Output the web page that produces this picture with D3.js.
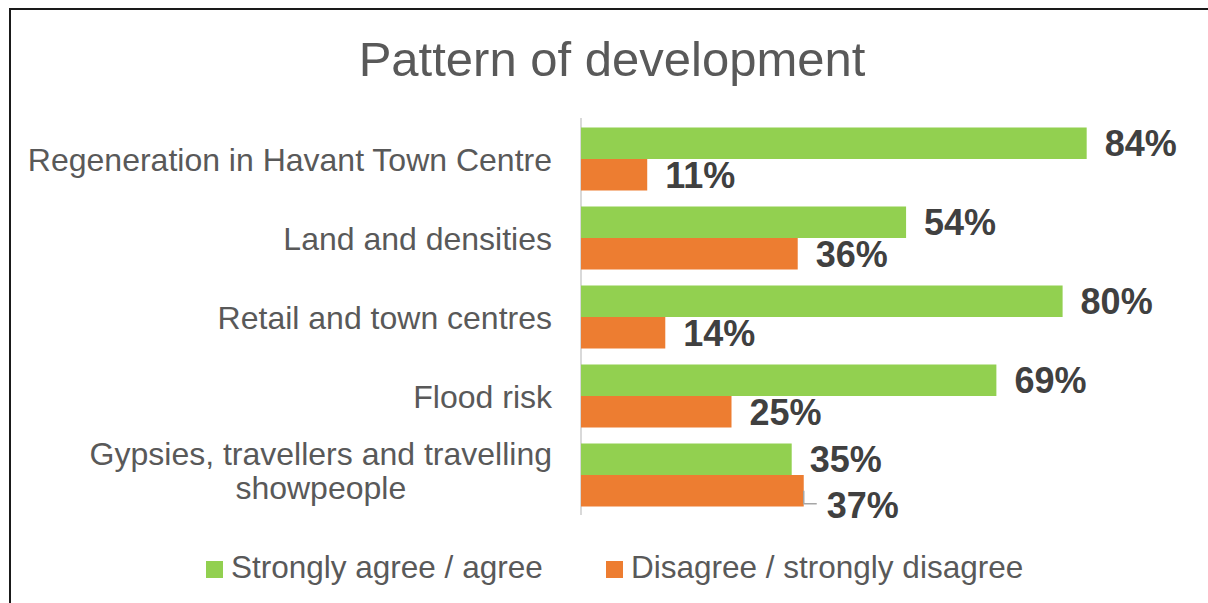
<!DOCTYPE html>
<html>
<head>
<meta charset="utf-8">
<script src="https://cdn.jsdelivr.net/npm/d3@7"></script>
<style>
  body { margin: 0; background: #fff; }
  svg { display: block; font-family: "Liberation Sans", Arial, sans-serif; }
</style>
</head>
<body>
<script>
const W = 1208, H = 603
const textColor = '#595959'
const labelColor = '#404040'

const categories = [
  ['Regeneration in Havant Town Centre'],
  ['Land and densities'],
  ['Retail and town centres'],
  ['Flood risk'],
  ['Gypsies, travellers and travelling', 'showpeople']
]
const seriesNames = ['Strongly agree / agree', 'Disagree / strongly disagree']
const agree = [84, 54, 80, 69, 35]
const disagree = [11, 36, 14, 25, 37]
const colors = ['#92d050', '#ed7d31']

const values = [agree, disagree]

let svg = d3.select('body').append('svg')
  .attr('width', W)
  .attr('height', H)

// frame (right and bottom edges fall outside the picture)
svg.append('path')
  .attr('d', `M10,${H} L10,9 L${W},9`)
  .attr('fill', 'none')
  .attr('stroke', '#1a1a1a')
  .attr('stroke-width', 2)

svg.append('text')
  .attr('x', 612)
  .attr('y', 76)
  .attr('text-anchor', 'middle')
  .attr('font-size', 49)
  .attr('fill', textColor)
  .text('Pattern of development')

let x = d3.scaleLinear().domain([0, 100]).range([581, 1183])
let y0 = d3.scaleBand().domain(d3.range(categories.length)).range([119.5, 514.5])
let y1 = d3.scaleBand().domain(d3.range(seriesNames.length)).range([8, 71])

// category axis line
svg.append('line')
  .attr('x1', x(0)).attr('x2', x(0))
  .attr('y1', 118).attr('y2', 515)
  .attr('stroke', '#d9d9d9')
  .attr('stroke-width', 2)

// category labels, right aligned; wrapped lines centred within their block
const labelRight = 552
categories.forEach((lines, i) => {
  let cy = y0(i) + y0.bandwidth() / 2
  let lh = 34
  let t = svg.append('text')
    .attr('font-size', 32)
    .attr('fill', textColor)
  if (lines.length === 1) {
    t.attr('text-anchor', 'end').attr('x', labelRight).attr('y', cy + 11.5).text(lines[0])
  } else {
    t.attr('text-anchor', 'middle')
    let spans = lines.map((l, j) => t.append('tspan')
      .attr('y', cy - 10 + j * lh)
      .text(l))
    let wmax = d3.max(spans, s => s.node().getComputedTextLength())
    spans.forEach(s => s.attr('x', labelRight - wmax / 2))
  }
})

values.forEach((vals, s) => {
  let g = svg.append('g').attr('class', 'series')
  g.selectAll('rect')
    .data(vals)
    .enter()
    .append('rect')
    .attr('x', x(0))
    .attr('y', (d, i) => y0(i) + y1(s))
    .attr('width', d => x(d) - x(0))
    .attr('height', y1.bandwidth())
    .attr('fill', colors[s])

  g.selectAll('text')
    .data(vals)
    .enter()
    .append('text')
    .attr('x', d => x(d) + 18)
    .attr('y', (d, i) => y0(i) + y1(s) + y1.bandwidth() / 2 + 13)
    .attr('font-size', 36)
    .attr('font-weight', 'bold')
    .attr('fill', labelColor)
    .text(d => d + '%')
})

// last orange label is pushed down with a leader line, as in the original
let last = categories.length - 1
let lbl = svg.selectAll('g.series').filter((d, i) => i === 1).selectAll('text').filter((d, i) => i === last)
let bx = x(disagree[last])
let by = y0(last) + y1(1) + y1.bandwidth() / 2
lbl.attr('x', bx + 23).attr('y', by + 27)
svg.append('polyline')
  .attr('points', `${bx},${by} ${bx},${by + 13} ${bx + 13},${by + 13}`)
  .attr('fill', 'none')
  .attr('stroke', '#a6a6a6')
  .attr('stroke-width', 1.5)

// legend
let legendX = [206, 606]
seriesNames.forEach((name, s) => {
  svg.append('rect')
    .attr('x', legendX[s]).attr('y', 561)
    .attr('width', 17).attr('height', 17)
    .attr('fill', colors[s])
  svg.append('text')
    .attr('x', legendX[s] + 25)
    .attr('y', 578)
    .attr('font-size', 31.5)
    .attr('fill', textColor)
    .text(name)
})
</script>
</body>
</html>
